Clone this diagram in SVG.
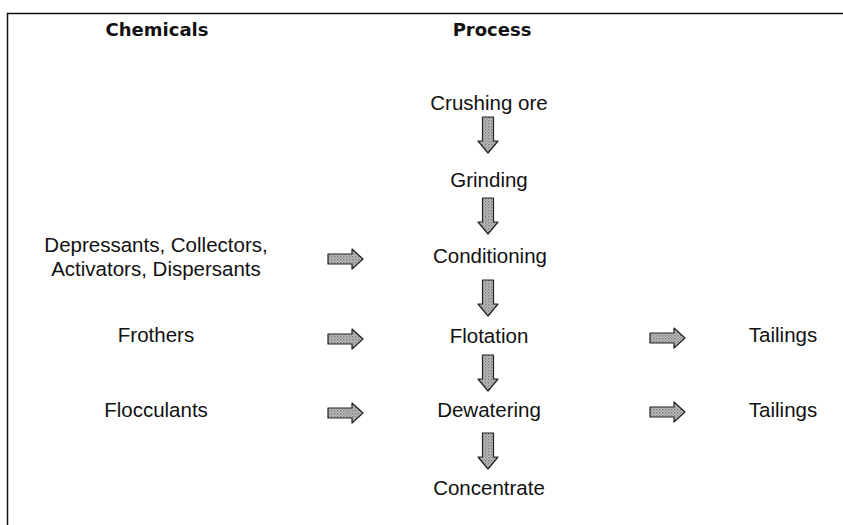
<svg xmlns="http://www.w3.org/2000/svg" width="843" height="525" viewBox="0 0 843 525">
<defs>
<pattern id="hatch" width="3" height="3" patternUnits="userSpaceOnUse">
<rect width="3" height="3" fill="#c4c4c4"/>
<rect width="1.5" height="1.5" fill="#7a7a7a"/>
<rect x="1.5" y="1.5" width="1.5" height="1.5" fill="#999"/>
</pattern>
<path id="down" d="M-5.5,0 H5.5 V24 H10 L0,36 L-10,24 H-5.5 Z"/>
<path id="right" d="M0,-5 H24 V-10 L35,0 L24,10 V5 H0 Z"/>
</defs>
<style>
.t{font-family:"Liberation Sans",Arial,sans-serif;font-size:20.5px;fill:#111;text-anchor:middle}
.h{font-family:"DejaVu Sans",Verdana,sans-serif;font-size:18px;font-weight:bold;fill:#111;text-anchor:middle}
.arr{fill:url(#hatch);stroke:#222;stroke-width:1.2;stroke-linejoin:round}
.frame{fill:none;stroke:#111;stroke-width:1.5}
</style>
<rect width="843" height="525" fill="#fff"/>
<path class="frame" d="M7.5,525 V13.5 H843"/>
<g id="headings">
<text class="h" x="157" y="36">Chemicals</text>
<text class="h" x="492" y="36">Process</text>
</g>
<g id="n-crushing"><text class="t" x="489" y="110">Crushing ore</text></g>
<g id="n-grinding"><text class="t" x="489" y="187">Grinding</text></g>
<g id="n-conditioning"><text class="t" x="490" y="263">Conditioning</text></g>
<g id="n-flotation"><text class="t" x="489" y="343">Flotation</text></g>
<g id="n-dewatering"><text class="t" x="489" y="417">Dewatering</text></g>
<g id="n-concentrate"><text class="t" x="489" y="495">Concentrate</text></g>
<g id="n-reagents"><text class="t" x="156" y="252">Depressants, Collectors,</text><text class="t" x="156" y="276">Activators, Dispersants</text></g>
<g id="n-frothers"><text class="t" x="156" y="342">Frothers</text></g>
<g id="n-flocculants"><text class="t" x="156" y="417">Flocculants</text></g>
<g id="n-tailings1"><text class="t" x="783" y="342">Tailings</text></g>
<g id="n-tailings2"><text class="t" x="783" y="417">Tailings</text></g>
<g id="connectors">
<use href="#down" class="arr" x="488" y="117"/>
<use href="#down" class="arr" x="488" y="198"/>
<use href="#down" class="arr" x="488" y="280"/>
<use href="#down" class="arr" x="488" y="355"/>
<use href="#down" class="arr" x="488" y="433"/>
<use href="#right" class="arr" x="328" y="259"/>
<use href="#right" class="arr" x="328" y="339"/>
<use href="#right" class="arr" x="328" y="413"/>
<use href="#right" class="arr" x="650" y="338"/>
<use href="#right" class="arr" x="650" y="412"/>
</g>
</svg>
